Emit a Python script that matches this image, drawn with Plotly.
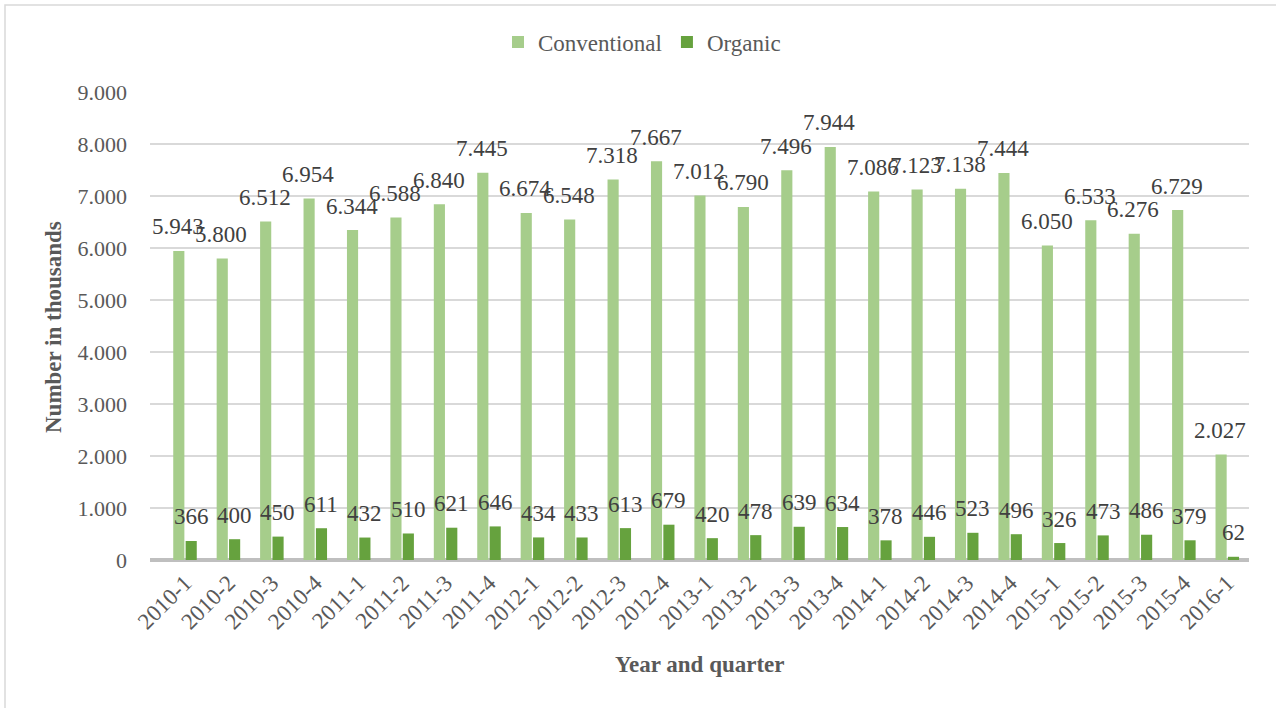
import plotly.graph_objects as go

categories = ["2010-1","2010-2","2010-3","2010-4","2011-1","2011-2","2011-3","2011-4",
              "2012-1","2012-2","2012-3","2012-4","2013-1","2013-2","2013-3","2013-4",
              "2014-1","2014-2","2014-3","2014-4","2015-1","2015-2","2015-3","2015-4","2016-1"]
conventional = [5943,5800,6512,6954,6344,6588,6840,7445,6674,6548,7318,7667,7012,6790,7496,7944,
                7086,7123,7138,7444,6050,6533,6276,6729,2027]
organic = [366,400,450,611,432,510,621,646,434,433,613,679,420,478,639,634,
           378,446,523,496,326,473,486,379,62]

W, H = 1276, 708
L, R, T, B = 150, 27, 92, 148
PW, PH = W - L - R, H - T - B
def px(x): return (x - L) / PW
def py(y): return (H - B - y) / PH

FONT = "Liberation Serif"
c_conv = "#a6cd8b"
c_org = "#66a23e"

fig = go.Figure()
fig.add_trace(go.Bar(name="Conventional", x=categories, y=conventional,
                     marker=dict(color=c_conv, line=dict(width=0))))
fig.add_trace(go.Bar(name="Organic", x=categories, y=organic,
                     marker=dict(color=c_org, line=dict(width=0))))

def fmt(v):
    return f"{v:,}".replace(",", ".")

ann = []
for c, v in zip(categories, conventional):
    ann.append(dict(x=c, y=v, xref="x", yref="y", text=fmt(v),
                    showarrow=False, xshift=-7, yshift=24, yanchor="middle",
                    font=dict(family=FONT, size=23, color="#404040")))
for c, v in zip(categories, organic):
    ann.append(dict(x=c, y=v, xref="x", yref="y", text=fmt(v),
                    showarrow=False, xshift=6, yshift=24, yanchor="middle",
                    font=dict(family=FONT, size=23, color="#404040")))
ann.append(dict(x=px(700), y=py(664), xref="paper", yref="paper", text="<b>Year and quarter</b>",
                showarrow=False, xanchor="center", yanchor="middle",
                font=dict(family=FONT, size=23, color="#595959")))
ann.append(dict(x=px(53), y=py(327), xref="paper", yref="paper", text="<b>Number in thousands</b>",
                showarrow=False, xanchor="center", yanchor="middle", textangle=-90,
                font=dict(family=FONT, size=23, color="#595959")))

fig.update_layout(
    width=W, height=H,
    margin=dict(l=L, r=R, t=T, b=B, autoexpand=False),
    paper_bgcolor="white", plot_bgcolor="white",
    barmode="group", bargap=0.43, bargroupgap=0.1,
    separators=",.",
    font=dict(family=FONT, size=22, color="#595959"),
    legend=dict(orientation="h", x=px(498), xanchor="left", y=py(42), yanchor="middle",
                font=dict(family=FONT, size=23, color="#595959"), itemwidth=30,
                traceorder="normal", bgcolor="rgba(0,0,0,0)"),
    xaxis=dict(type="category", tickangle=-45, showgrid=False, ticks="",
               tickfont=dict(family=FONT, size=23, color="#595959"),
               showline=False, automargin=False, ticklabelstandoff=4),
    yaxis=dict(range=[0, 9000], dtick=1000, tickformat=",d", showgrid=True,
               gridcolor="#d9d9d9", gridwidth=1.5, zeroline=True, zerolinecolor="#bfbfbf",
               zerolinewidth=3.5, ticks="", ticklabelstandoff=22,
               tickfont=dict(family=FONT, size=22, color="#595959"), automargin=False),
    annotations=ann,
    shapes=[dict(type="rect", xref="paper", yref="paper", x0=px(5), y0=py(5), x1=px(1290), y1=py(720),
                 line=dict(color="#d9d9d9", width=1.5), fillcolor="rgba(0,0,0,0)", layer="below")],
)
fig.write_html("out.html")
